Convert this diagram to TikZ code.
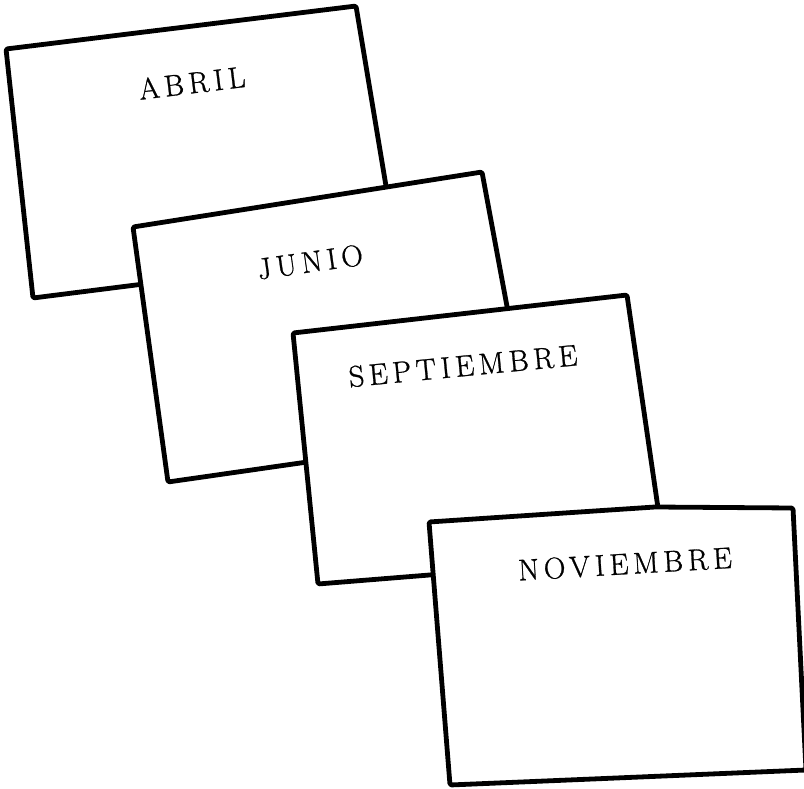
\documentclass[tikz,border=0pt]{standalone}
\usepackage{fontspec}
\setmainfont{Latin Modern Roman}
\begin{document}
\begin{tikzpicture}[x=1pt,y=-1pt,
  card/.style={draw=black,fill=white,line width=4.8pt,line join=round,rounded corners=1.5pt},
  lbl/.style={font=\fontsize{30}{34}\selectfont\addfontfeature{LetterSpace=16,FakeBold=0.9},inner sep=0pt}]
\useasboundingbox (0,0) rectangle (804,789);
% ABRIL
\draw[card] (6,49) -- (356,6) -- (397,252) -- (33,298) -- cycle;
\node[lbl,rotate=7] (abril) at (192,83) {ABRIL};
% JUNIO
\draw[card] (133,227) -- (482,172) -- (530,430) -- (168,482) -- cycle;
\node[lbl,rotate=8] (junio) at (310,262) {JUNIO};
% SEPTIEMBRE
\draw[card] (293,333) -- (627,295) -- (665,556) -- (318,584) -- cycle;
\node[lbl,rotate=5.5] (sept) at (463,366) {SEPTIEMBRE};
% NOVIEMBRE
\draw[card] (429,522) -- (655,507) -- (793,508) -- (806,770) -- (450,785) -- cycle;
\node[lbl,rotate=3.4] (nov) at (625,564) {NOVIEMBRE};
\end{tikzpicture}
\end{document}
